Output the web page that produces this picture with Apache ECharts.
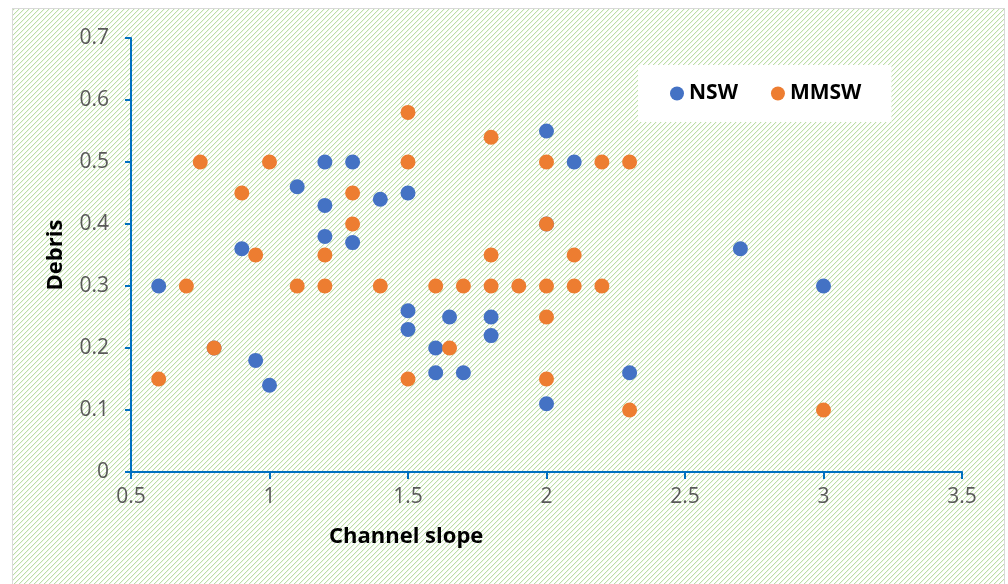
<!DOCTYPE html>
<html>
<head>
<meta charset="utf-8">
<script src="https://cdn.jsdelivr.net/npm/echarts@6/dist/echarts.min.js"></script>
<style>
  html, body { margin: 0; padding: 0; background: #ffffff; }
  #bg { position: absolute; left: 12px; top: 8px; width: 993px; height: 600px; border: 1px solid #d9d9d9; box-sizing: border-box; }
  #chart { position: absolute; left: 0; top: 0; width: 1008px; height: 584px; }
</style>
</head>
<body>
<div id="bg"></div>
<div id="chart"></div>
<script>
// ---- data ----
const seriesNames = ['NSW', 'MMSW'];
const xTicks = [0.5, 1, 1.5, 2, 2.5, 3, 3.5];
const yTicks = [0, 0.1, 0.2, 0.3, 0.4, 0.5, 0.6, 0.7];
const nswSlope = [0.6, 0.8, 0.9, 0.95, 1.0, 1.1, 1.2, 1.2, 1.2, 1.3, 1.3, 1.4, 1.5, 1.5, 1.5, 1.6, 1.6, 1.65, 1.7, 1.8, 1.8, 2.0, 2.0, 2.0, 2.1, 2.3, 2.7, 3.0];
const nswDebris = [0.3, 0.2, 0.36, 0.18, 0.14, 0.46, 0.5, 0.43, 0.38, 0.5, 0.37, 0.44, 0.45, 0.26, 0.23, 0.2, 0.16, 0.25, 0.16, 0.25, 0.22, 0.55, 0.4, 0.11, 0.5, 0.16, 0.36, 0.3];
const mmswSlope = [0.6, 0.7, 0.75, 0.8, 0.9, 0.95, 1.0, 1.1, 1.2, 1.2, 1.3, 1.3, 1.4, 1.5, 1.5, 1.5, 1.6, 1.65, 1.7, 1.8, 1.8, 1.8, 1.9, 2.0, 2.0, 2.0, 2.0, 2.0, 2.1, 2.1, 2.2, 2.2, 2.3, 2.3, 3.0];
const mmswDebris = [0.15, 0.3, 0.5, 0.2, 0.45, 0.35, 0.5, 0.3, 0.35, 0.3, 0.45, 0.4, 0.3, 0.58, 0.5, 0.15, 0.3, 0.2, 0.3, 0.54, 0.35, 0.3, 0.3, 0.5, 0.4, 0.3, 0.25, 0.15, 0.35, 0.3, 0.5, 0.3, 0.5, 0.1, 0.1];
const xTitle = 'Channel slope';
const yTitle = 'Debris';

// ---- hatch background ----
(function () {
  const c = document.createElement('canvas');
  c.width = 5; c.height = 5;
  const g = c.getContext('2d');
  g.fillStyle = '#ffffff'; g.fillRect(0, 0, 5, 5);
  for (let y = 0; y < 5; y++) {
    for (let x = 0; x < 5; x++) {
      const k = (x + y) % 5;
      if (k === 0) { g.fillStyle = '#bddda8'; g.fillRect(x, y, 1, 1); }
      else if (k === 1) { g.fillStyle = '#eef7e8'; g.fillRect(x, y, 1, 1); }
    }
  }
  document.getElementById('bg').style.backgroundImage = 'url(' + c.toDataURL() + ')';
})();

const pairs = (xs, ys) => xs.map((x, i) => [x, ys[i]]);
const FONT = '"Open Sans"';

const chart = echarts.init(document.getElementById('chart'), null, { renderer: 'canvas' });
chart.setOption({
  backgroundColor: 'transparent',
  animation: false,
  textStyle: { fontFamily: FONT },
  grid: { left: 131, top: 38, right: 46, bottom: 112 },
  legend: {
    left: 638, top: 65,
    backgroundColor: '#ffffff',
    padding: [18, 30, 18, 32],
    itemWidth: 14, itemHeight: 14, itemGap: 33,
    icon: 'circle',
    data: seriesNames,
    textStyle: { fontFamily: FONT, fontSize: 21, fontWeight: 'bold', color: '#000000' }
  },
  xAxis: {
    type: 'value', min: xTicks[0], max: xTicks[xTicks.length - 1], interval: 0.5,
    axisLine: { show: true, lineStyle: { color: '#0070C0', width: 2 } },
    axisTick: { show: true, length: 7, lineStyle: { color: '#0070C0', width: 2 } },
    axisLabel: { margin: 15, color: '#595959', fontSize: 21, fontFamily: FONT },
    splitLine: { show: false }
  },
  yAxis: {
    type: 'value', min: yTicks[0], max: yTicks[yTicks.length - 1], interval: 0.1,
    name: yTitle, nameLocation: 'middle', nameGap: 64,
    nameTextStyle: { fontFamily: FONT, fontSize: 22, fontWeight: 'bold', color: '#000000' },
    axisLine: { show: true, lineStyle: { color: '#0070C0', width: 2 } },
    axisTick: { show: true, length: 6, lineStyle: { color: '#0070C0', width: 2 } },
    axisLabel: { margin: 22, color: '#595959', fontSize: 21, fontFamily: FONT },
    splitLine: { show: false }
  },
  graphic: [{
    type: 'text', left: 329, top: 526,
    style: { text: xTitle, font: 'bold 22px ' + FONT, fill: '#000000' }
  }],
  series: [
    { name: seriesNames[0], type: 'scatter', symbolSize: 15, itemStyle: { color: '#4472C4', opacity: 1 }, data: pairs(nswSlope, nswDebris) },
    { name: seriesNames[1], type: 'scatter', symbolSize: 15, itemStyle: { color: '#ED7D31', opacity: 1 }, data: pairs(mmswSlope, mmswDebris) }
  ]
});
</script>
</body>
</html>
